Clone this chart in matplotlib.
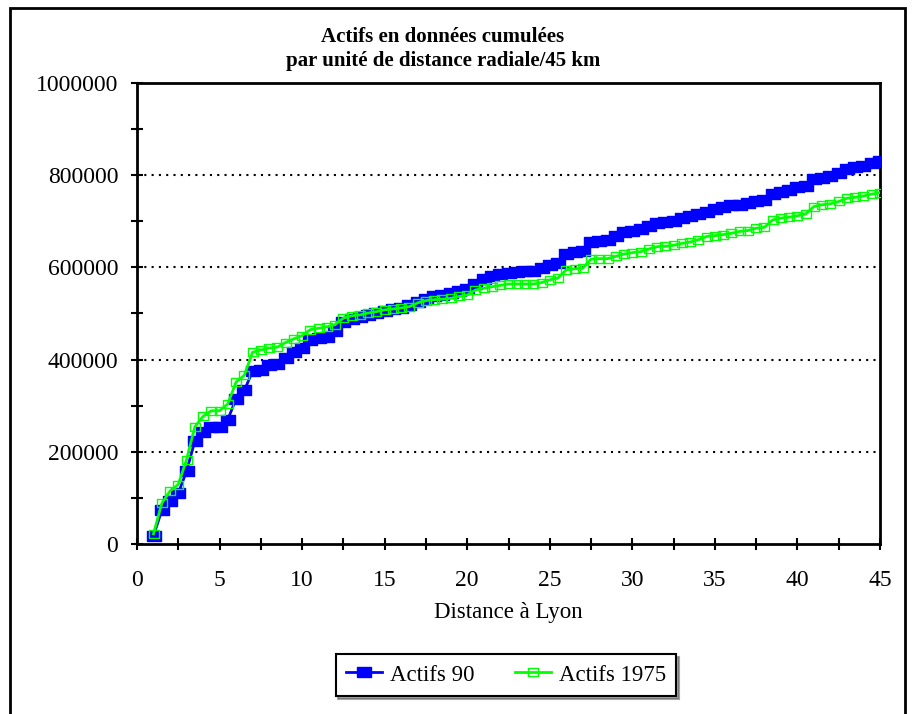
import matplotlib
matplotlib.use("Agg")
import matplotlib.pyplot as plt
from matplotlib.patches import Rectangle
from matplotlib.ticker import MultipleLocator, FixedLocator

distance = [1, 1.5, 2, 2.5, 3, 3.5, 4, 4.5, 5, 5.5, 6, 6.5, 7, 7.5, 8, 8.5, 9, 9.5, 10, 10.5,
            11, 11.5, 12, 12.5, 13, 13.5, 14, 14.5, 15, 15.5, 16, 16.5, 17, 17.5, 18, 18.5, 19, 19.5, 20, 20.5,
            21, 21.5, 22, 22.5, 23, 23.5, 24, 24.5, 25, 25.5, 26, 26.5, 27, 27.5, 28, 28.5, 29, 29.5, 30, 30.5,
            31, 31.5, 32, 32.5, 33, 33.5, 34, 34.5, 35, 35.5, 36, 36.5, 37, 37.5, 38, 38.5, 39, 39.5, 40, 40.5,
            41, 41.5, 42, 42.5, 43, 43.5, 44, 44.5, 45]

actifs_90 = [18, 73, 93, 110, 158, 223, 242, 253, 253, 270, 315, 333, 375, 377, 389, 390, 404, 417, 425, 442,
             447, 450, 463, 481, 487, 492, 497, 502, 505, 510, 513, 518, 525, 532, 538, 540, 544, 549, 553, 565,
             575, 581, 585, 588, 590, 592, 593, 598, 605, 610, 629, 633, 635, 656, 657, 659, 668, 677, 680, 683,
             690, 696, 698, 700, 707, 712, 715, 721, 727, 731, 735, 736, 740, 744, 746, 760, 763, 768, 774, 777,
             792, 795, 799, 804, 813, 817, 821, 826, 831]
actifs_90 = [v * 1000 for v in actifs_90]

actifs_1975 = [22, 88, 115, 129, 183, 254, 277, 289, 289, 304, 351, 366, 416, 421, 425, 427, 437, 445, 452, 465,
               468, 471, 476, 490, 495, 497, 501, 504, 508, 510, 512, 515, 523, 528, 530, 531, 533, 537, 540, 551,
               555, 558, 561, 564, 564, 564, 564, 567, 573, 577, 595, 597, 598, 618, 619, 619, 624, 629, 632, 634,
               640, 645, 646, 648, 652, 655, 660, 667, 669, 671, 674, 678, 680, 685, 687, 703, 707, 709, 712, 716,
               732, 736, 738, 743, 750, 752, 755, 759, 762]
actifs_1975 = [v * 1000 for v in actifs_1975]

x_ticks = [0, 5, 10, 15, 20, 25, 30, 35, 40, 45]
y_ticks = [0, 200000, 400000, 600000, 800000, 1000000]
title = "Actifs en données cumulées\npar unité de distance radiale/45 km"
xlabel = "Distance à Lyon"
labels = ["Actifs 90", "Actifs 1975"]

plt.rcParams['font.family'] = ['Liberation Serif', 'DejaVu Serif']

W, H = 919, 714
fig = plt.figure(figsize=(W / 100, H / 100), dpi=100)
ax = fig.add_axes([137 / W, 1 - 544 / H, (880 - 137) / W, (544 - 83) / H])

rect = [(-1, -0.75), (1, -0.75), (1, 0.75), (-1, 0.75), (-1, -0.75)]

ax.plot(distance, actifs_90, color='#0000FF', lw=2, marker=rect, markersize=10,
        markerfacecolor='#0000FF', markeredgecolor='#0000FF', label=labels[0], zorder=3)
ax.plot(distance, actifs_1975, color='#00FF00', lw=2, marker=rect, markersize=7,
        markerfacecolor='none', markeredgecolor='#00FF00', markeredgewidth=1, label=labels[1], zorder=4)

ax.set_xlim(0, 45)
ax.set_ylim(0, 1000000)
ax.xaxis.set_major_locator(FixedLocator(x_ticks))
ax.xaxis.set_minor_locator(MultipleLocator(2.5))
ax.yaxis.set_major_locator(FixedLocator(y_ticks))
ax.yaxis.set_minor_locator(MultipleLocator(100000))
ax.set_xticklabels([str(t) for t in x_ticks])
ax.set_yticklabels([str(t) for t in y_ticks])

ax.tick_params(which='both', direction='inout', width=1.5, labelsize=17)
ax.tick_params(which='major', length=9)
ax.tick_params(which='minor', length=8)
ax.tick_params(axis='y', pad=9)
ax.tick_params(axis='x', pad=14)

for t in y_ticks[1:-1]:
    ax.axhline(t, color='black', lw=1.5, linestyle=(0, (1, 2.5)), zorder=1)

for s in ax.spines.values():
    s.set_linewidth(2)

ax.set_xlabel(xlabel, fontsize=16.5, labelpad=8)

fig.text(443 / W, 1 - 49 / H, title, ha='center', va='center', fontsize=15, fontweight='bold',
         linespacing=1.3)

leg = ax.legend(loc='center', bbox_to_anchor=(506 / W, 1 - 675 / H), bbox_transform=fig.transFigure,
                ncol=2, fontsize=16.5, frameon=True, fancybox=False, shadow=True, edgecolor='black',
                handlelength=1.55, handletextpad=0.35, columnspacing=1.8, borderpad=0.45,
                borderaxespad=0)
leg.get_frame().set_linewidth(1.5)

fig.add_artist(Rectangle((10 / W, -0.05), (905 - 10) / W, 1 - 8 / H + 0.05, transform=fig.transFigure,
                         fill=False, edgecolor='black', lw=2))

fig.savefig("out.png", dpi=100)
